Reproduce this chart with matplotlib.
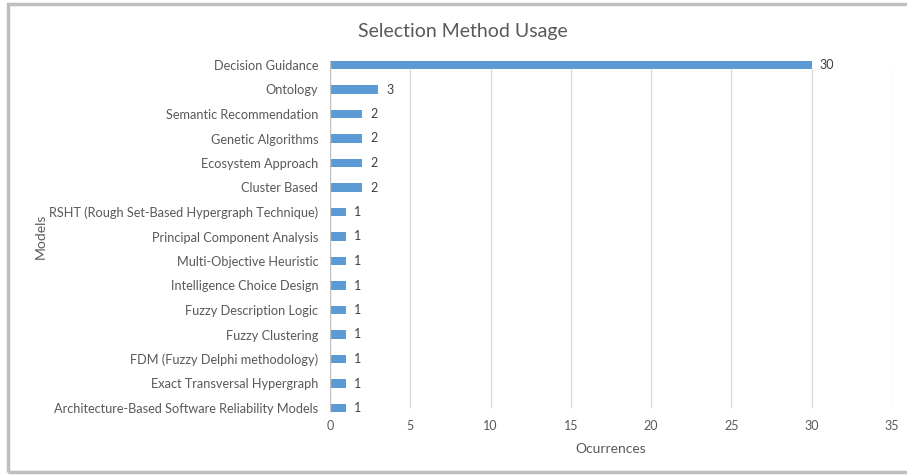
import matplotlib.pyplot as plt
from matplotlib.patches import Rectangle

categories = [
    "Decision Guidance", "Ontology", "Semantic Recommendation", "Genetic Algorithms",
    "Ecosystem Approach", "Cluster Based", "RSHT (Rough Set-Based Hypergraph Technique)",
    "Principal Component Analysis", "Multi-Objective Heuristic", "Intelligence Choice Design",
    "Fuzzy Description Logic", "Fuzzy Clustering", "FDM (Fuzzy Delphi methodology)",
    "Exact Transversal Hypergraph", "Architecture-Based Software Reliability Models",
]
values = [30, 3, 2, 2, 2, 2, 1, 1, 1, 1, 1, 1, 1, 1, 1]
xticks = [0, 5, 10, 15, 20, 25, 30, 35]

plt.rcParams['font.family'] = ['Lato', 'DejaVu Sans']
fig = plt.figure(figsize=(9.07, 4.75), dpi=100)
fig.patches.append(Rectangle((8/907, 3/475), 1.2, 1 - 7/475, transform=fig.transFigure,
                             fill=False, edgecolor='#BFBFBF', linewidth=2.5, figure=fig))
ax = fig.add_axes([330/907, 1 - 420.25/475, 562/907, 367.5/475])
n = len(categories)
pos = list(range(n))
bars = ax.barh(pos, values, height=0.34, color='#5B9BD5', zorder=3)
ax.set_ylim(n - 0.5, -0.5)
ax.set_xlim(0, 35)
ax.set_xticks(xticks)
ax.set_yticks(pos)
ax.set_yticklabels(categories)
ax.vlines(xticks[1:], 0.15, n - 1, color='#D9D9D9', linewidth=1, zorder=0)
ax.vlines([0], -0.17, n - 1 + 0.17, color='#BFBFBF', linewidth=1, zorder=4)
for s in ['top', 'right', 'bottom', 'left']:
    ax.spines[s].set_visible(False)
ax.tick_params(length=0, labelsize=9, colors='#595959')
ax.tick_params(axis='y', labelsize=9.2, pad=8.5)
ax.tick_params(axis='x', pad=0)
for b, v in zip(bars, values):
    ax.text(b.get_width() + 0.5, b.get_y() + b.get_height() / 2, str(v),
            va='center', ha='left', fontsize=9, color='#404040')
ax.set_xlabel('Ocurrences', fontsize=10, color='#595959', labelpad=7.5)
ax.set_ylabel('Models', fontsize=10, color='#595959', labelpad=2)
fig.text(463/907, 1 - 31/475, 'Selection Method Usage', ha='center', va='center',
         fontsize=14, color='#595959')
fig.savefig('out.png', dpi=100)
